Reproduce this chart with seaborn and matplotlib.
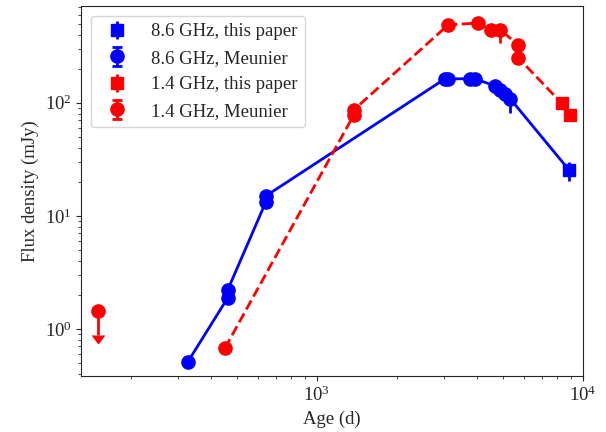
import numpy as np
import pandas as pd
import seaborn as sns
import matplotlib
matplotlib.use("Agg")
import matplotlib.pyplot as plt

# 8.6 GHz, Meunier
t86_m = [327, 462, 462, 643, 643, 3030, 3110, 3760, 3930, 4670, 4880, 5090, 5320]
f86_m = [0.51, 1.88, 2.21, 13.3, 15.0, 163, 163, 163, 163, 141, 130, 120, 109]

# 8.6 GHz, this paper
t86_p = [8891]
f86_p = [25.2]
e86_p = [5.0]

# 1.4 GHz, Meunier
t14_m = [451, 1377, 1377, 3117, 4036, 4530, 4875, 5710, 5710]
f14_m = [0.675, 78.3, 86.7, 490, 507, 437, 443, 326, 250]

# 1.4 GHz, this paper
t14_p = [8318, 8932]
f14_p = [99, 78.3]
e14_p = [3, 3]

# the two Meunier error bars that show past the markers
t_err = [5320, 4875]
f_err = [109, 443]
lo_err = [28, 103]
err_col = ['blue', 'red']

# 1.4 GHz upper limit
t_lim = [150]
f_lim = [1.44]

sns.set_style("ticks")
plt.rcParams['font.family'] = ['Liberation Serif', 'DejaVu Serif']
plt.rcParams['mathtext.fontset'] = 'stix'
plt.rcParams['font.size'] = 13.5

fig = plt.figure(figsize=(6.06, 4.32), dpi=100)
ax = fig.add_axes([0.134, 0.13, 0.828, 0.855])

blue = pd.DataFrame({'t': t86_m + t86_p, 'f': f86_m + f86_p})
red = pd.DataFrame({'t': t14_m + t14_p, 'f': f14_m + f14_p})
sns.lineplot(data=blue, x='t', y='f', sort=False, estimator=None,
             color='blue', lw=2, ax=ax)
sns.lineplot(data=red, x='t', y='f', sort=False, estimator=None,
             color='red', lw=2, linestyle='--', ax=ax)

for t, f, lo, c in zip(t_err, f_err, lo_err, err_col):
    ax.errorbar([t], [f], yerr=[[lo], [lo * 0.2]], fmt='none', ecolor=c,
                elinewidth=2, capsize=0, zorder=2.5)

ax.errorbar(t86_p, f86_p, yerr=e86_p, fmt='s', color='blue', ms=9,
            elinewidth=2, capsize=0, label='8.6 GHz, this paper', zorder=3)
ax.errorbar(t86_m, f86_m, yerr=0, fmt='o', color='blue', ms=9.5,
            elinewidth=2, capsize=3.5, capthick=2, label='8.6 GHz, Meunier', zorder=3)
ax.errorbar(t14_p, f14_p, yerr=e14_p, fmt='s', color='red', ms=9,
            elinewidth=2, capsize=0, label='1.4 GHz, this paper', zorder=3)
ax.errorbar(t14_m, f14_m, yerr=0, fmt='o', color='red', ms=9.5,
            elinewidth=2, capsize=3.5, capthick=2, label='1.4 GHz, Meunier', zorder=3)
ax.errorbar(t_lim, f_lim, yerr=[[0.55], [0]], fmt='o', color='red', ms=9.5,
            elinewidth=2, uplims=True, capsize=4, zorder=3)

ax.set_xscale('log')
ax.set_yscale('log')
ax.set_xlim(130, 10000)
ax.set_ylim(0.384, 711)
ax.set_xlabel('Age (d)')
ax.set_ylabel('Flux density (mJy)')
ax.legend(loc='upper left', fontsize=13.5)

fig.savefig('out.png', dpi=100)
